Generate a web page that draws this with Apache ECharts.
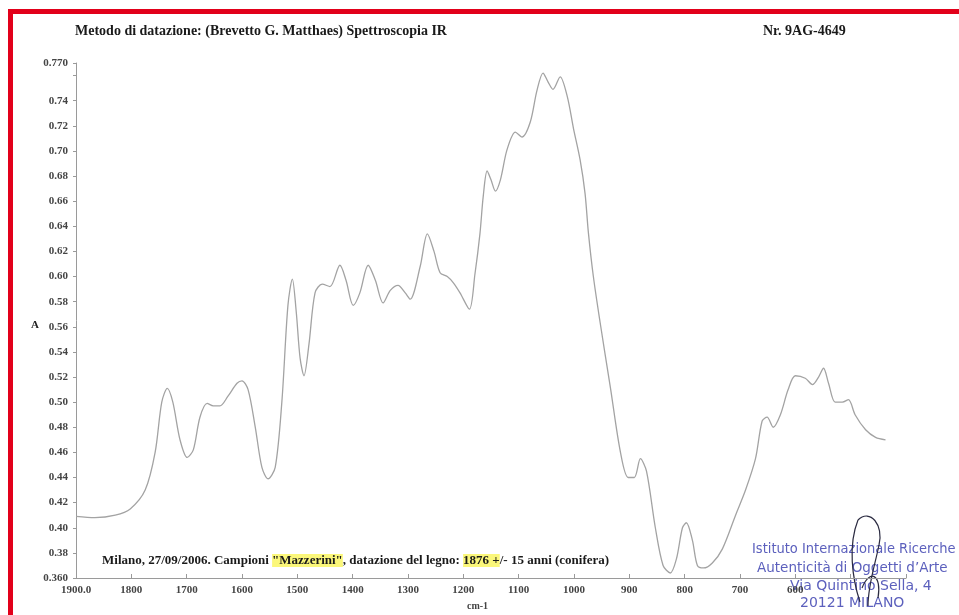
<!DOCTYPE html>
<html>
<head>
<meta charset="utf-8">
<script src="https://cdn.jsdelivr.net/npm/echarts@6/dist/echarts.min.js"></script>
<style>
  html, body { margin: 0; padding: 0; background: #ffffff; }
  #chart { width: 959px; height: 615px; }
</style>
</head>
<body>
<div id="chart"></div>
<script>
// IR absorbance spectrum: wavenumber (cm-1) and absorbance (A)
const wavenumbers = [
  1900, 1866, 1829, 1802, 1775, 1757, 1745, 1735, 1725, 1712,
  1699, 1688, 1676, 1663, 1652, 1640, 1625, 1609, 1600, 1589,
  1576, 1564, 1553, 1540, 1528, 1517, 1509, 1502, 1495, 1488,
  1479, 1468, 1455, 1441, 1423, 1412, 1399, 1387, 1372, 1359,
  1345, 1332, 1318, 1305, 1296, 1278, 1265, 1253, 1242, 1229,
  1218, 1206, 1189, 1179, 1170, 1164, 1157, 1150, 1142, 1133,
  1121, 1106, 1094, 1079, 1067, 1056, 1047, 1038, 1025, 1012,
  1001, 989, 980, 974, 965, 953, 934, 916, 902, 891,
  880, 869, 853, 839, 826, 815, 804, 797, 786, 777,
  766, 750, 732, 708, 690, 672, 660, 651, 640, 627,
  613, 600, 582, 569, 558, 549, 540, 528, 515, 504,
  492, 473, 455, 437
];
const absorbance = [
  0.409, 0.408, 0.410, 0.415, 0.430, 0.460, 0.500, 0.511, 0.500, 0.470,
  0.456, 0.462, 0.488, 0.499, 0.497, 0.497, 0.505, 0.515, 0.517, 0.510,
  0.480, 0.448, 0.439, 0.448, 0.500, 0.577, 0.598, 0.572, 0.535, 0.521,
  0.546, 0.587, 0.594, 0.592, 0.609, 0.597, 0.577, 0.587, 0.609, 0.597,
  0.579, 0.589, 0.593, 0.587, 0.582, 0.608, 0.634, 0.620, 0.603, 0.600,
  0.595, 0.587, 0.574, 0.602, 0.634, 0.664, 0.684, 0.677, 0.668, 0.677,
  0.701, 0.715, 0.711, 0.723, 0.748, 0.762, 0.755, 0.749, 0.759, 0.743,
  0.718, 0.693, 0.666, 0.635, 0.600, 0.564, 0.511, 0.460, 0.440, 0.440,
  0.455, 0.445, 0.400, 0.370, 0.364, 0.375, 0.400, 0.404, 0.390, 0.370,
  0.368, 0.372, 0.383, 0.410, 0.430, 0.455, 0.485, 0.488, 0.480, 0.490,
  0.510, 0.521, 0.519, 0.514, 0.520, 0.527, 0.515, 0.500, 0.500, 0.502,
  0.490, 0.478, 0.472, 0.470
];

const headerLeft = 'Metodo di datazione: (Brevetto G. Matthaes) Spettroscopia IR';
const headerRight = 'Nr. 9AG-4649';
const stampLines = [
  'Istituto Internazionale Ricerche',
  'Autenticità di Oggetti d\u2019Arte',
  'Via Quintino Sella, 4',
  '20121 MILANO'
];

const SERIF = '"Liberation Serif", "DejaVu Serif", serif';
const STAMP_INK = '#5c60bd';
const points = wavenumbers.map((w, i) => [w, absorbance[i]]);

const chart = echarts.init(document.getElementById('chart'), null, { renderer: 'canvas' });

const ink = { stroke: '#2a2a40', lineWidth: 1.2, fill: null };

chart.setOption({
  backgroundColor: '#ffffff',
  animation: false,
  grid: { left: 76, right: 53, top: 63, bottom: 37 },
  xAxis: {
    type: 'value',
    inverse: true,
    min: 400,
    max: 1900,
    interval: 100,
    axisLine: { lineStyle: { color: '#9a9a9a', width: 1 } },
    axisTick: { inside: true, length: 4, lineStyle: { color: '#9a9a9a' } },
    splitLine: { show: false },
    axisLabel: {
      margin: 7,
      fontFamily: SERIF,
      fontSize: 11,
      fontWeight: 'bold',
      color: '#444',
      formatter: v => (v === 1900 ? '1900.0' : (v < 600 ? '' : String(v)))
    }
  },
  yAxis: {
    type: 'value',
    min: 0.36,
    max: 0.77,
    interval: 0.02,
    axisLine: { show: true, lineStyle: { color: '#9a9a9a', width: 1 } },
    axisTick: { show: true, length: 3, lineStyle: { color: '#9a9a9a' } },
    splitLine: { show: false },
    axisLabel: {
      margin: 8,
      fontFamily: SERIF,
      fontSize: 11,
      fontWeight: 'bold',
      color: '#444',
      formatter: v => {
        if (Math.abs(v - 0.36) < 1e-6) return '0.360';
        if (Math.abs(v - 0.77) < 1e-6) return '0.770';
        if (Math.abs(v - 0.76) < 1e-6) return '';
        return v.toFixed(2);
      }
    }
  },
  series: [{
    type: 'line',
    data: points,
    smooth: 0.3,
    showSymbol: false,
    lineStyle: { color: '#a3a3a3', width: 1.3 }
  }],
  graphic: [
    // red frame edges
    { type: 'rect', shape: { x: 8, y: 9, width: 951, height: 5 }, style: { fill: '#e2001a' } },
    { type: 'rect', shape: { x: 8, y: 9, width: 5, height: 606 }, style: { fill: '#e2001a' } },
    // header
    { type: 'text', x: 75, y: 24, style: { text: headerLeft, font: 'bold 14px ' + SERIF, fill: '#1a1a1a' } },
    { type: 'text', x: 763, y: 24, style: { text: headerRight, font: 'bold 14px ' + SERIF, fill: '#1a1a1a' } },
    // axis names
    { type: 'text', x: 31, y: 320, style: { text: 'A', font: 'bold 11px ' + SERIF, fill: '#222' } },
    { type: 'text', x: 467, y: 601, style: { text: 'cm-1', font: 'bold 10px ' + SERIF, fill: '#444' } },
    // sample note
    {
      type: 'text', x: 102, y: 554,
      style: {
        text: 'Milano, 27/09/2006. Campioni {hl|"Mazzerini"}, datazione del legno: {hl|1876 +}/- 15 anni (conifera)',
        font: 'bold 13px ' + SERIF,
        fill: '#1a1a1a',
        rich: {
          hl: { backgroundColor: '#fbf77a', font: 'bold 13px ' + SERIF, fill: '#1a1a1a' }
        }
      }
    },
    // institute stamp
    { type: 'text', x: 752, y: 542, style: { text: stampLines[0], font: '14.5px "DejaVu Sans Condensed", sans-serif', fill: STAMP_INK } },
    { type: 'text', x: 757, y: 561, style: { text: stampLines[1], font: '13.5px "DejaVu Sans", sans-serif', fill: STAMP_INK } },
    { type: 'text', x: 790, y: 579, style: { text: stampLines[2], font: '14px "DejaVu Sans", sans-serif', fill: STAMP_INK } },
    { type: 'text', x: 800, y: 596, style: { text: stampLines[3], font: '14px "DejaVu Sans", sans-serif', fill: STAMP_INK } },
    // signature over the stamp
    { type: 'bezierCurve', shape: { x1: 858, y1: 520, cpx1: 848, cpy1: 545, cpx2: 852, cpy2: 578, x2: 860, y2: 602 }, style: ink },
    { type: 'bezierCurve', shape: { x1: 858, y1: 520, cpx1: 870, cpy1: 508, cpx2: 884, cpy2: 525, x2: 879, y2: 545 }, style: ink },
    { type: 'bezierCurve', shape: { x1: 879, y1: 545, cpx1: 875, cpy1: 565, cpx2: 868, cpy2: 585, x2: 868, y2: 606 }, style: ink },
    { type: 'bezierCurve', shape: { x1: 862, y1: 588, cpx1: 870, cpy1: 568, cpx2: 882, cpy2: 575, x2: 878, y2: 598 }, style: ink }
  ]
});
</script>
</body>
</html>
